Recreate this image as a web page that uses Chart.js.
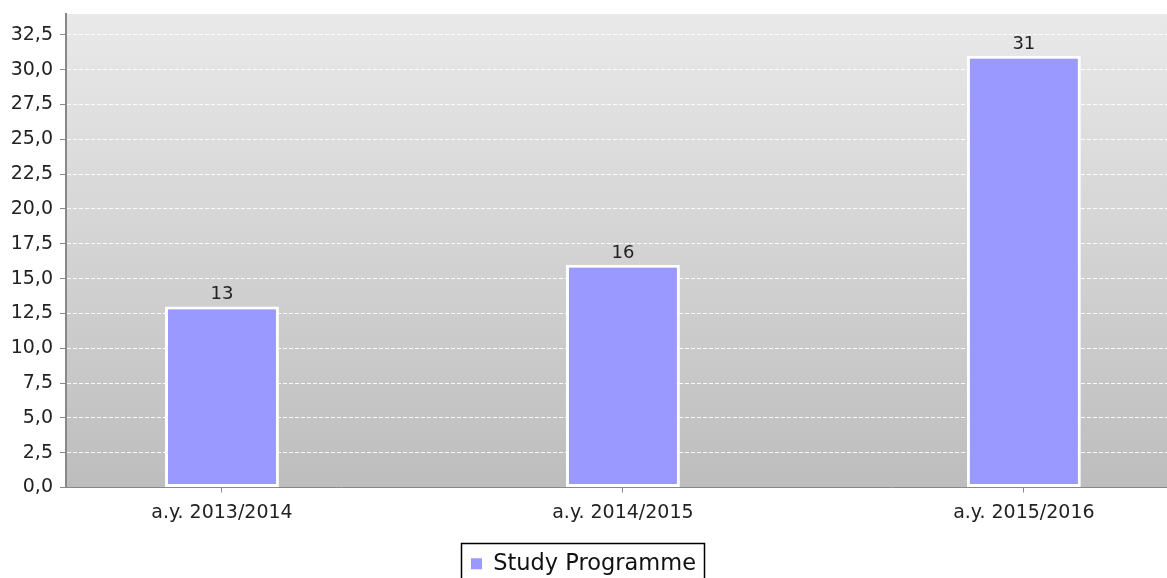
<!DOCTYPE html>
<html>
<head>
<meta charset="utf-8">
<script src="https://cdn.jsdelivr.net/npm/chart.js@4.4.0/dist/chart.umd.min.js"></script>
<style>
  html, body { margin: 0; padding: 0; background: #ffffff; }
</style>
</head>
<body>
<canvas id="chart" width="1167" height="578"></canvas>
<script>
// Chart data
const CATEGORIES = ['a.y. 2013/2014', 'a.y. 2014/2015', 'a.y. 2015/2016'];
const SERIES_NAME = 'Study Programme';
const SERIES_VALUES = [13, 16, 31];
const Y_MAX = 34;
const Y_STEP = 2.5;

const FONT = "'DejaVu Sans', Verdana, sans-serif";
const BAR_COLOR = '#9999ff';

/**
 * Format y ticks with a decimal comma: 12.5 → "12,5"
 */
function formatTick(value) {
  return value.toFixed(1).replace('.', ',');
}

// Grey vertical gradient behind the plot area
const plotBackground = {
  id: 'plotBackground',
  beforeDraw(chart) {
    const { ctx, chartArea: a } = chart;
    const g = ctx.createLinearGradient(0, a.top, 0, a.bottom);
    g.addColorStop(0, '#e9e9e9');
    g.addColorStop(1, '#bdbdbd');
    ctx.save();
    ctx.fillStyle = g;
    ctx.fillRect(a.left, a.top, a.right - a.left, a.bottom - a.top);
    ctx.restore();
  },
};

// Value printed above each bar
const valueLabels = {
  id: 'valueLabels',
  afterDatasetsDraw(chart) {
    const ctx = chart.ctx;
    const meta = chart.getDatasetMeta(0);
    ctx.save();
    ctx.font = '18px ' + FONT;
    ctx.fillStyle = '#222';
    ctx.textAlign = 'center';
    ctx.textBaseline = 'alphabetic';
    meta.data.forEach((bar, i) => {
      ctx.fillText(String(SERIES_VALUES[i]), bar.x, bar.y - 7);
    });
    ctx.restore();
  },
};

// Black frame round the legend (runs off the bottom edge, as in the original)
const legendFrame = {
  id: 'legendFrame',
  afterDraw(chart) {
    const legend = chart.legend;
    if (!legend || !legend.legendHitBoxes || !legend.legendHitBoxes.length) return;
    const hb = legend.legendHitBoxes[0];
    const ctx = chart.ctx;
    ctx.save();
    ctx.strokeStyle = '#000';
    ctx.lineWidth = 1.5;
    ctx.strokeRect(Math.round(hb.left - 10) + 0.5, Math.round(legend.top) + 0.5, Math.round(hb.width + 18), 60);
    ctx.restore();
  },
};

const ctx = document.getElementById('chart');

new Chart(ctx, {
  type: 'bar',
  data: {
    datasets: [{
      label: SERIES_NAME,
      data: SERIES_VALUES.map((v, i) => ({ x: i, y: v })),
      backgroundColor: BAR_COLOR,
      borderColor: '#ffffff',
      borderWidth: 3,
      borderSkipped: false,
      barPercentage: 0.284,
      categoryPercentage: 1,
    }],
  },
  options: {
    responsive: false,
    devicePixelRatio: 1,
    animation: false,
    layout: { padding: { top: 14, right: 0, left: 0, bottom: -7 } },
    plugins: {
      tooltip: { enabled: false },
      legend: {
        position: 'bottom',
        labels: {
          boxWidth: 11,
          boxHeight: 11,
          padding: 10,
          color: '#111',
          font: { family: FONT, size: 22.5 },
          generateLabels(chart) {
            return Chart.defaults.plugins.legend.labels.generateLabels(chart)
              .map((l) => Object.assign(l, { lineWidth: 0, strokeStyle: l.fillStyle }));
          },
        },
      },
    },
    scales: {
      x: {
        type: 'linear',
        offset: false,
        min: -0.389,
        max: 2.357,
        afterBuildTicks(scale) {
          scale.ticks = CATEGORIES.map((_, i) => ({ value: i }));
        },
        afterFit(scale) {
          scale.height = 55;
          scale.paddingLeft = 0;
          scale.paddingRight = 0;
        },
        grid: {
          display: true,
          offset: false,
          drawOnChartArea: false,
          tickLength: 5,
          tickColor: '#888',
        },
        border: { color: '#888', width: 1 },
        ticks: {
          autoSkip: false,
          maxRotation: 0,
          padding: 9,
          color: '#222',
          font: { family: FONT, size: 19 },
          callback: (value) => CATEGORIES[value],
        },
      },
      y: {
        min: 0,
        max: Y_MAX,
        afterBuildTicks(scale) {
          const ticks = [];
          for (let v = 0; v <= Y_MAX + 1e-9; v += Y_STEP) ticks.push({ value: v });
          scale.ticks = ticks;
        },
        afterFit(scale) {
          scale.width = 66;
          scale.paddingTop = 0;
          scale.paddingBottom = 0;
        },
        grid: {
          color: 'rgba(255,255,255,0.9)',
          lineWidth: 1,
          tickLength: 6,
          tickColor: '#888',
        },
        border: { color: '#888', width: 2, dash: [4, 2] },
        ticks: {
          autoSkip: false,
          padding: 7,
          color: '#222',
          font: { family: FONT, size: 19 },
          callback: (value) => formatTick(value),
        },
      },
    },
  },
  plugins: [plotBackground, valueLabels, legendFrame],
});
</script>
</body>
</html>
